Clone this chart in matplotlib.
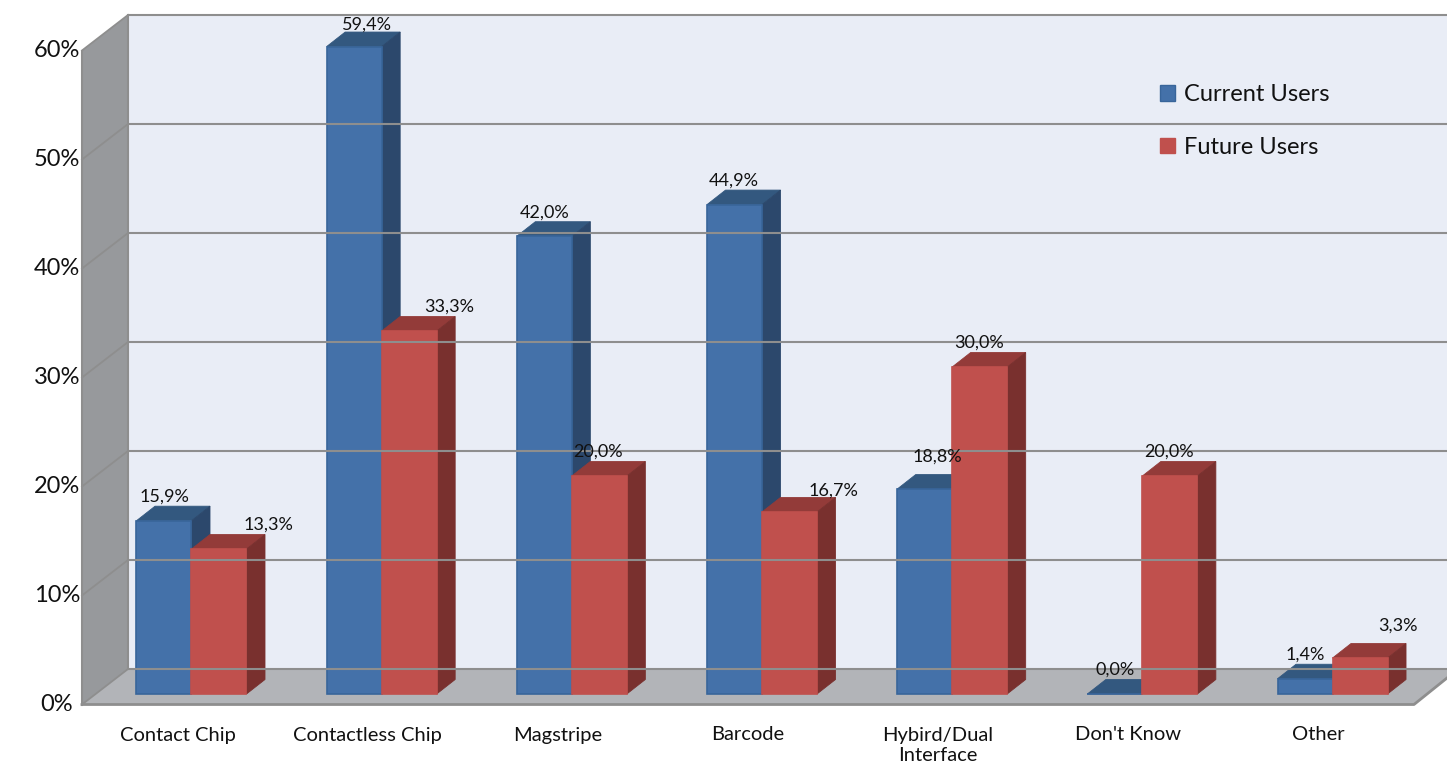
import matplotlib
matplotlib.use("Agg")
import matplotlib.pyplot as plt
from matplotlib.patches import Patch, Polygon

categories = ["Contact Chip", "Contactless Chip", "Magstripe", "Barcode",
              "Hybird/Dual\nInterface", "Don't Know", "Other"]
current_users = [15.9, 59.4, 42.0, 44.9, 18.8, 0.0, 1.4]
future_users = [13.3, 33.3, 20.0, 16.7, 30.0, 20.0, 3.3]
y_ticks = [0, 10, 20, 30, 40, 50, 60]

# label nudges in pixels, the original chart has them hand placed
current_nudge = [(0, 0), (13, -2), (0, 0), (-1, 0), (13, 8), (0, 0), (0, 0)]
future_nudge = [(49, 0), (40, 0), (-1, 0), (44, -3), (-1, 0), (-1, 0), (38, 8)]

W, H = 1447, 774
PX_PER_PCT = 10.9
PX_PER_GROUP = 190.17
BASE_PX = 694
FIRST_PX = 191.5

# pixel sizes expressed in the axes units
BAR_W = 55 / PX_PER_GROUP
DEPTH_X = 18.5 / PX_PER_GROUP
DEPTH_Y = 14.5 / PX_PER_PCT
WALL_FRONT_Y = -10.5 / PX_PER_PCT
WALL_BACK_Y = 25 / PX_PER_PCT
WALL_FRONT_X = (82 - FIRST_PX) / PX_PER_GROUP
WALL_BACK_X = (128 - FIRST_PX) / PX_PER_GROUP
FLOOR_FRONT_X = (1414 - FIRST_PX) / PX_PER_GROUP
RIGHT_X = (W - FIRST_PX) / PX_PER_GROUP
FLOOR_RIGHT_Y = (BASE_PX - 678) / PX_PER_PCT

BLUE = ("#4471A9", "#33587F", "#2C486C", "#38659A")
RED = ("#C0504D", "#933B39", "#79302E", "#C0504D")
GRID = "#8E8E8E"
TEXT = "#111111"

plt.rcParams["font.family"] = ["Lato", "DejaVu Sans"]


def draw_bar(ax, x, value, colors):
    face, top, side, edge = colors
    ax.add_patch(Polygon([(x, value), (x + BAR_W, value),
                          (x + BAR_W + DEPTH_X, value + DEPTH_Y), (x + DEPTH_X, value + DEPTH_Y)],
                         facecolor=top, edgecolor=top, lw=0.6))
    ax.add_patch(Polygon([(x + BAR_W, 0), (x + BAR_W + DEPTH_X, DEPTH_Y),
                          (x + BAR_W + DEPTH_X, value + DEPTH_Y), (x + BAR_W, value)],
                         facecolor=side, edgecolor=side, lw=0.6))
    ax.bar(x, value, BAR_W, align="edge", color=face, edgecolor=edge, linewidth=1.2)


fig = plt.figure(figsize=(W / 100, H / 100), dpi=100, facecolor="white")
ax = fig.add_axes([0, 0, 1, 1])
ax.set_xlim(-FIRST_PX / PX_PER_GROUP, RIGHT_X)
ax.set_ylim((BASE_PX - H) / PX_PER_PCT, BASE_PX / PX_PER_PCT)
ax.axis("off")

top_back = y_ticks[-1] + WALL_BACK_Y
top_front = y_ticks[-1] + WALL_FRONT_Y

# back wall, side wall and floor
ax.add_patch(Polygon([(WALL_BACK_X, WALL_BACK_Y), (RIGHT_X, WALL_BACK_Y), (RIGHT_X, top_back), (WALL_BACK_X, top_back)],
                     facecolor="#E9EDF6", edgecolor="none"))
ax.add_patch(Polygon([(WALL_FRONT_X, WALL_FRONT_Y), (WALL_BACK_X, WALL_BACK_Y), (WALL_BACK_X, top_back), (WALL_FRONT_X, top_front)],
                     facecolor="#97999C", edgecolor="none"))
ax.add_patch(Polygon([(WALL_FRONT_X, WALL_FRONT_Y), (FLOOR_FRONT_X, WALL_FRONT_Y), (RIGHT_X, FLOOR_RIGHT_Y),
                      (RIGHT_X, WALL_BACK_Y), (WALL_BACK_X, WALL_BACK_Y)],
                     facecolor="#B2B4B8", edgecolor="none"))

for t in y_ticks:
    ax.plot([WALL_BACK_X, RIGHT_X], [t + WALL_BACK_Y] * 2, color=GRID, lw=1.5, solid_capstyle="butt")
    ax.plot([WALL_FRONT_X, WALL_BACK_X], [t + WALL_FRONT_Y, t + WALL_BACK_Y], color=GRID, lw=1.3)
    ax.text(WALL_FRONT_X - 25 / PX_PER_GROUP, t + WALL_FRONT_Y, f"{t}%", ha="center", va="center",
            fontsize=17, color=TEXT)

ax.plot([WALL_FRONT_X, WALL_FRONT_X], [WALL_FRONT_Y, top_front], color=GRID, lw=1.5)
ax.plot([WALL_BACK_X, WALL_BACK_X], [WALL_BACK_Y, top_back], color=GRID, lw=1.5)
ax.plot([WALL_FRONT_X, FLOOR_FRONT_X, RIGHT_X], [WALL_FRONT_Y, WALL_FRONT_Y, FLOOR_RIGHT_Y], color=GRID, lw=2)

for i, (cur, fut) in enumerate(zip(current_users, future_users)):
    draw_bar(ax, i - BAR_W, cur, BLUE)
    draw_bar(ax, i, fut, RED)

# labels go last so the bars never cover them
for i, (cur, fut) in enumerate(zip(current_users, future_users)):
    for value, x, nudge in [(cur, i - BAR_W / 2, current_nudge[i]), (fut, i + BAR_W / 2, future_nudge[i])]:
        ax.annotate(f"{value:.1f}%".replace(".", ","), (x, value), xytext=(nudge[0], 24 + nudge[1]),
                    textcoords="offset pixels", ha="center", va="center", fontsize=13, color=TEXT, zorder=6)
    ax.annotate(categories[i], (i, WALL_FRONT_Y), xytext=(-14, -22), textcoords="offset pixels",
                ha="center", va="top", fontsize=14.5, color=TEXT, linespacing=1.25)

handles = [Patch(facecolor=BLUE[0], edgecolor=BLUE[3], label="Current Users"),
           Patch(facecolor=RED[0], edgecolor=RED[3], label="Future Users")]
ax.legend(handles=handles, loc="upper left", bbox_to_anchor=(1160 / W, 1 - 84 / H), bbox_transform=fig.transFigure,
          frameon=False, fontsize=17, handlelength=0.65, handleheight=0.65, handletextpad=0.35,
          labelspacing=1.35, labelcolor=TEXT, borderpad=0, borderaxespad=0)

fig.savefig("out.png", dpi=100)
